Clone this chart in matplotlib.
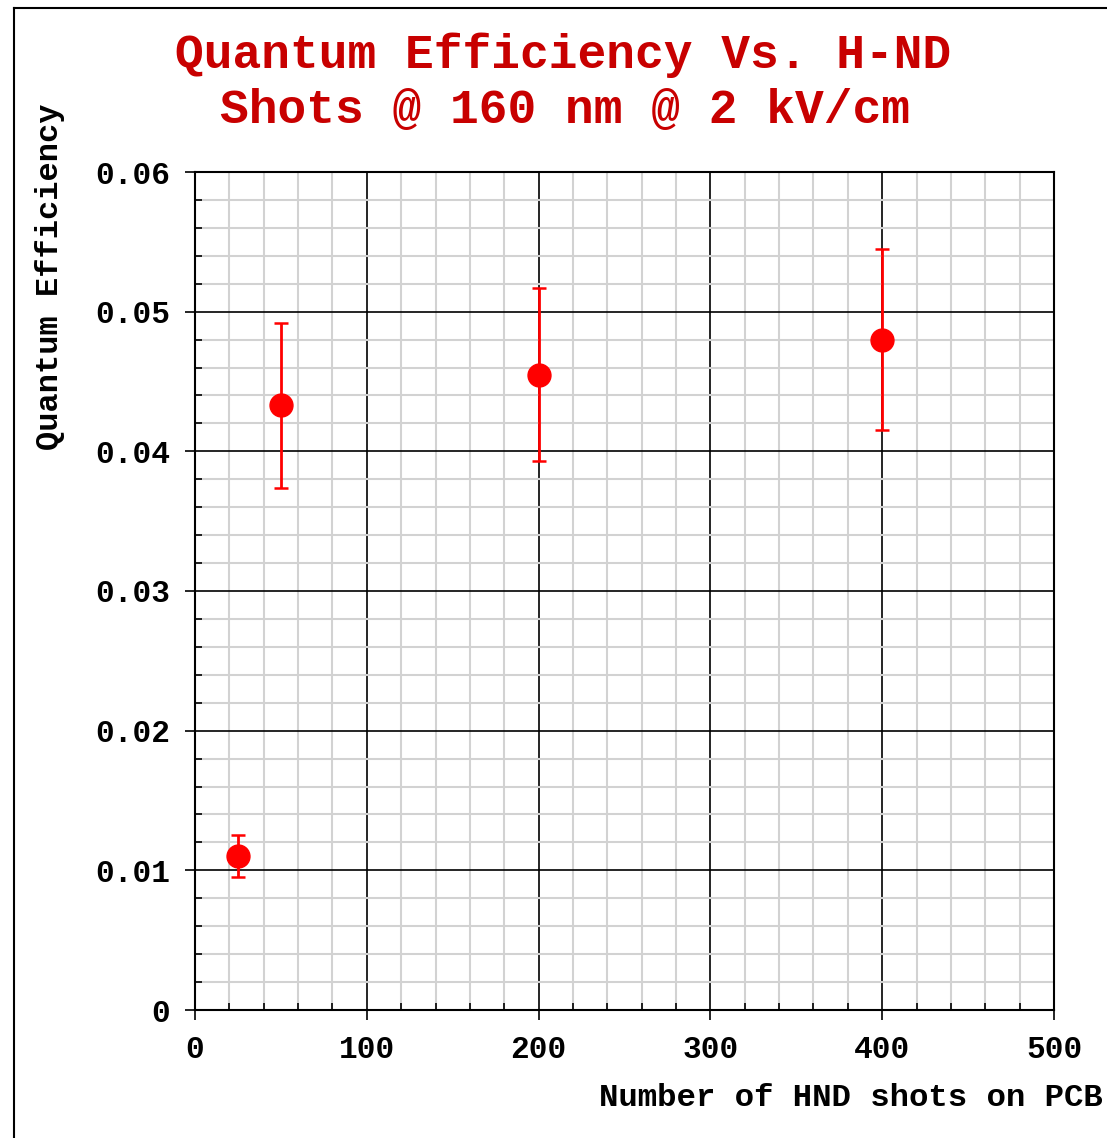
import matplotlib
matplotlib.use("Agg")
import matplotlib.pyplot as plt
from matplotlib.ticker import MultipleLocator, FixedLocator
from matplotlib.lines import Line2D

shots = [25, 50, 200, 400]
qe = [0.0110, 0.0433, 0.0455, 0.0480]
qe_err = [0.0015, 0.0059, 0.0062, 0.0065]
x_ticks = [0, 100, 200, 300, 400, 500]
y_ticks = [0, 0.01, 0.02, 0.03, 0.04, 0.05, 0.06]
y_tick_labels = ["0", "0.01", "0.02", "0.03", "0.04", "0.05", "0.06"]

FONT = "Liberation Mono"
W, H = 1107, 1138
fig = plt.figure(figsize=(W / 100, H / 100), dpi=100)
ax = fig.add_axes([195 / W, 1 - 1010 / H, (1054 - 195) / W, (1010 - 172) / H])

ax.set_xlim(0, 500)
ax.set_ylim(0, 0.06)
ax.xaxis.set_major_locator(FixedLocator(x_ticks))
ax.yaxis.set_major_locator(FixedLocator(y_ticks))
ax.xaxis.set_minor_locator(MultipleLocator(20))
ax.yaxis.set_minor_locator(MultipleLocator(0.002))
ax.set_xticklabels([str(v) for v in x_ticks])
ax.set_yticklabels(y_tick_labels)

ax.grid(which="minor", color="#d2d2d2", linewidth=1.5, zorder=0)
ax.grid(which="major", color="black", linewidth=1.2, zorder=1)
ax.set_axisbelow(True)

for s in ax.spines.values():
    s.set_linewidth(1.5)
    s.set_color("black")

ax.tick_params(which="major", direction="out", length=7, width=1.2,
               top=False, right=False, pad=11, labelsize=22.5)
ax.tick_params(which="minor", direction="in", length=5, width=1.2,
               top=False, right=False)
for lab in ax.get_xticklabels() + ax.get_yticklabels():
    lab.set_fontfamily(FONT)
    lab.set_fontweight("bold")

ax.errorbar(shots, qe, yerr=qe_err, fmt="o", color="#ff0000",
            markersize=16.5, elinewidth=2.0, capsize=4.7, capthick=1.8,
            zorder=5)

fig.text(563 / W, 1 - 55 / H, "Quantum Efficiency Vs. H-ND", ha="center",
         va="center", fontsize=34.5, fontweight="bold", family=FONT,
         color="#c80000")
fig.text(565 / W, 1 - 110 / H, "Shots @ 160 nm @ 2 kV/cm", ha="center",
         va="center", fontsize=34.5, fontweight="bold", family=FONT,
         color="#c80000")
fig.text(50 / W, 1 - 277 / H, "Quantum Efficiency", rotation=90,
         ha="center", va="center", fontsize=23, fontweight="bold",
         family=FONT)
fig.text(1103 / W, 1 - 1098 / H, "Number of HND shots on PCB", ha="right",
         va="center", fontsize=23.3, fontweight="bold", family=FONT)

# figure frame (left and top edges)
fig.add_artist(Line2D([14 / W, 14 / W], [0, 1 - 8 / H], color="black",
                      linewidth=1.5, transform=fig.transFigure))
fig.add_artist(Line2D([14 / W, 1], [1 - 8 / H, 1 - 8 / H], color="black",
                      linewidth=1.5, transform=fig.transFigure))

fig.savefig("out.png", dpi=100)
